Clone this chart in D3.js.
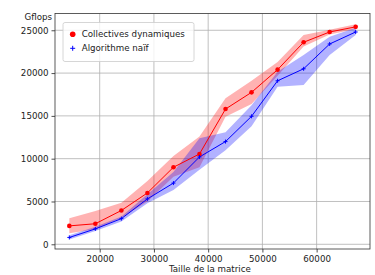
<!DOCTYPE html>
<html>
<head>
<meta charset="utf-8">
<script src="https://cdn.jsdelivr.net/npm/d3@7"></script>
<style>
  body { margin: 0; background: #fff; }
  text { font-family: "DejaVu Sans", sans-serif; fill: #222; }
</style>
</head>
<body>
<div id="chart"></div>
<script>
// matrix sizes
const sizes = [14400, 19200, 24000, 28800, 33600, 38400, 43200, 48000, 52800, 57600, 62400, 67200];

// Collectives dynamiques
const dynMean  = [2150, 2400, 3950, 6000, 9000, 10550, 15800, 17750, 20400, 23600, 24800, 25400];
const dynUpper = [3050, 3900, 4850, 7400, 10300, 12600, 17050, 19100, 21300, 24450, 25050, 25700];
const dynLower = [1300, 1750, 3100, 5000, 7900, 9000, 14900, 16400, 19700, 23100, 24500, 25150];

// Algorithme naif
const naifMean  = [800, 1800, 3000, 5300, 7150, 10200, 12000, 14950, 19100, 20500, 23400, 24800];
const naifUpper = [1050, 2050, 3250, 5850, 8450, 12400, 13100, 16250, 20150, 22100, 24250, 25300];
const naifLower = [550, 1550, 2650, 4800, 6350, 8700, 11000, 13800, 18400, 18600, 22100, 24450];

const xTicks = [20000, 30000, 40000, 50000, 60000];
const yTicks = [0, 5000, 10000, 15000, 20000, 25000];

const width = 375, height = 275;
const margin = { top: 13.5, right: 5, bottom: 26, left: 55 };
const fs = 8.7;

const svg = d3.select("#chart")
  .append("svg")
    .attr("width", width)
    .attr("height", height);

const x = d3.scaleLinear()
  .domain([11760, 69840])
  .range([margin.left, width - margin.right]);

const y = d3.scaleLinear()
  .domain([-550, 26960])
  .range([height - margin.bottom, margin.top]);

// grid
svg.append("g")
  .selectAll("line")
  .data(xTicks)
  .join("line")
    .attr("x1", d => x(d)).attr("x2", d => x(d))
    .attr("y1", margin.top).attr("y2", height - margin.bottom)
    .attr("stroke", "#b0b0b0").attr("stroke-width", 0.8);
svg.append("g")
  .selectAll("line")
  .data(yTicks)
  .join("line")
    .attr("y1", d => y(d)).attr("y2", d => y(d))
    .attr("x1", margin.left).attr("x2", width - margin.right)
    .attr("stroke", "#b0b0b0").attr("stroke-width", 0.8);

const series = [
  { mean: dynMean, lo: dynLower, hi: dynUpper, color: "red" },
  { mean: naifMean, lo: naifLower, hi: naifUpper, color: "blue" }
];

const area = d3.area()
  .x(d => x(d.x))
  .y0(d => y(d.lo))
  .y1(d => y(d.hi));
const line = d3.line()
  .x(d => x(d.x))
  .y(d => y(d.v));

series.forEach(s => {
  const rows = sizes.map((v, i) => ({ x: v, v: s.mean[i], lo: s.lo[i], hi: s.hi[i] }));
  s.rows = rows;
  svg.append("path")
    .datum(rows)
    .attr("d", area)
    .attr("fill", s.color)
    .attr("fill-opacity", 0.3);
});

series.forEach(s => {
  svg.append("path")
    .datum(s.rows)
    .attr("d", line)
    .attr("fill", "none")
    .attr("stroke", s.color)
    .attr("stroke-width", 1);
});

// markers
svg.append("g")
  .selectAll("circle")
  .data(series[0].rows)
  .join("circle")
    .attr("cx", d => x(d.x))
    .attr("cy", d => y(d.v))
    .attr("r", 2.3)
    .attr("fill", "red");

svg.append("g")
  .selectAll("path")
  .data(series[1].rows)
  .join("path")
    .attr("d", d => `M${x(d.x) - 2},${y(d.v)}h4M${x(d.x)},${y(d.v) - 2}v4`)
    .attr("stroke", "blue")
    .attr("stroke-width", 1);

// axes
const xAxis = svg.append("g")
  .attr("transform", `translate(0,${height - margin.bottom})`)
  .call(d3.axisBottom(x).tickValues(xTicks).tickFormat(d3.format("d")).tickSizeOuter(0).tickSize(3.5).tickPadding(3));
const yAxis = svg.append("g")
  .attr("transform", `translate(${margin.left},0)`)
  .call(d3.axisLeft(y).tickValues(yTicks).tickFormat(d3.format("d")).tickSizeOuter(0).tickSize(3.5).tickPadding(3));
[xAxis, yAxis].forEach(a => {
  a.select(".domain").remove();
  a.selectAll("text").attr("font-size", fs).attr("font-family", "DejaVu Sans").attr("fill", "#222");
  a.selectAll("line").attr("stroke", "#222").attr("stroke-width", 0.8);
});

// frame
svg.append("rect")
  .attr("x", margin.left).attr("y", margin.top)
  .attr("width", width - margin.left - margin.right)
  .attr("height", height - margin.top - margin.bottom)
  .attr("fill", "none")
  .attr("stroke", "#333").attr("stroke-width", 0.8);

// labels
svg.append("text")
  .attr("x", 52).attr("y", 20)
  .attr("text-anchor", "end")
  .attr("font-size", fs)
  .text("Gflops");
svg.append("text")
  .attr("x", x(40320)).attr("y", 272)
  .attr("text-anchor", "middle")
  .attr("font-size", fs)
  .text("Taille de la matrice");

// legend
const legend = svg.append("g").attr("transform", "translate(63,22.5)");
legend.append("rect")
  .attr("width", 131).attr("height", 39)
  .attr("rx", 2)
  .attr("fill", "white").attr("fill-opacity", 0.8)
  .attr("stroke", "#ccc").attr("stroke-width", 0.8);
legend.append("circle")
  .attr("cx", 9.7).attr("cy", 11.8).attr("r", 2.8).attr("fill", "red");
legend.append("path")
  .attr("d", "M7.2,25.8h5M9.7,23.3v5")
  .attr("stroke", "blue").attr("stroke-width", 1);
legend.append("text")
  .attr("x", 18.7).attr("y", 14.9).attr("font-size", fs)
  .text("Collectives dynamiques");
legend.append("text")
  .attr("x", 18.7).attr("y", 28.9).attr("font-size", fs)
  .text("Algorithme naïf");
</script>
</body>
</html>
